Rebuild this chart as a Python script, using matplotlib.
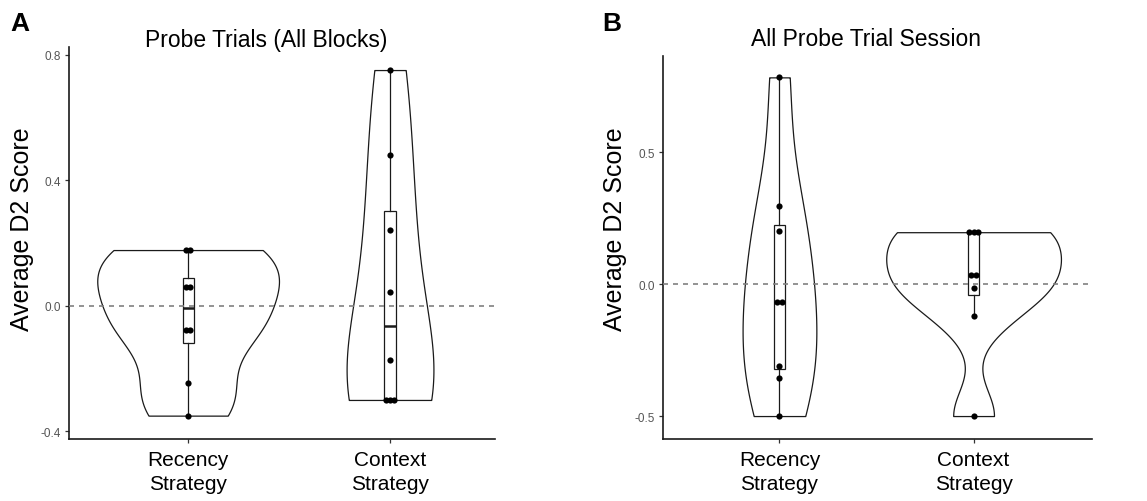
import numpy as np
import matplotlib
matplotlib.use("Agg")
import matplotlib.pyplot as plt

plt.rcParams['font.family'] = ['Liberation Sans', 'DejaVu Sans']
plt.rcParams['axes.unicode_minus'] = False

categories = ['Recency\nStrategy', 'Context\nStrategy']

# panel A: probe trials, all blocks
a_recency = [-0.35, -0.247, -0.076, -0.076, 0.061, 0.061, 0.178, 0.178]
a_context = [-0.30, -0.30, -0.30, -0.172, 0.044, 0.242, 0.48, 0.752]
# panel B: all probe trial session
b_recency = [-0.50, -0.356, -0.309, -0.066, -0.066, 0.20, 0.296, 0.784]
b_context = [-0.50, -0.122, -0.015, 0.035, 0.035, 0.197, 0.197, 0.197]

a_ticks = [-0.4, 0.0, 0.4, 0.8]
b_ticks = [-0.5, 0.0, 0.5]


def nrd0(x):
    # same rule as R's default bandwidth
    x = np.asarray(x)
    sd = np.std(x, ddof=1)
    q75, q25 = np.percentile(x, [75, 25])
    return 0.9 * min(sd, (q75 - q25) / 1.34) * len(x) ** -0.2


def violin(ax, pos, vals, width):
    vals = np.asarray(vals)
    bw = nrd0(vals)
    yy = np.linspace(vals.min(), vals.max(), 512)
    dens = np.exp(-0.5 * ((yy[:, None] - vals[None, :]) / bw) ** 2).sum(axis=1)
    hw = 0.5 * width * dens / dens.max()
    ax.fill_betweenx(yy, pos - hw, pos + hw, facecolor='white',
                     edgecolor='#1a1a1a', linewidth=0.9, zorder=1)


def dup_offsets(vals, step=0.022):
    vals = np.asarray(vals)
    off = np.zeros(len(vals))
    for v in np.unique(vals):
        idx = np.where(vals == v)[0]
        k = len(idx)
        off[idx] = (np.arange(k) - (k - 1) / 2) * step
    return off


def panel(ax, groups, vwidths, ticks, ylim, xlim):
    pos = [1, 2]
    for p, g, w in zip(pos, groups, vwidths):
        violin(ax, p, g, w)
    ax.boxplot(groups, positions=pos, widths=0.055, showfliers=False, showcaps=False,
               patch_artist=True, manage_ticks=False,
               boxprops=dict(facecolor='white', edgecolor='#1a1a1a', linewidth=0.9),
               whiskerprops=dict(color='#1a1a1a', linewidth=0.9),
               medianprops=dict(color='#1a1a1a', linewidth=1.8),
               zorder=2)
    ax.axhline(0, color='#808080', ls=(0, (3, 3)), lw=1.2, zorder=3)
    for p, g in zip(pos, groups):
        ax.scatter(p + dup_offsets(g), g, s=20, color='black', zorder=4, linewidths=0)
    ax.set_xlim(*xlim)
    ax.set_ylim(*ylim)
    ax.set_xticks(pos)
    ax.set_xticklabels(categories, fontsize=15, linespacing=1.3)
    ax.set_yticks(ticks)
    ax.set_yticklabels(['%.1f' % t for t in ticks])
    ax.tick_params(axis='y', labelsize=8.5, labelcolor='#555555', color='#333333',
                   length=3, width=0.9, pad=2.5)
    ax.tick_params(axis='x', color='#333333', length=3, width=0.9, pad=5)
    for s in ['top', 'right']:
        ax.spines[s].set_visible(False)
    for s in ['left', 'bottom']:
        ax.spines[s].set_linewidth(1.2)
        ax.spines[s].set_color('#1a1a1a')


fig = plt.figure(figsize=(11.47, 5.02), dpi=100)
W, H = 1147, 502

axA = fig.add_axes([69 / W, 1 - 440 / H, (495 - 69) / W, (440 - 48) / H])
panel(axA, [a_recency, a_context], [0.9, 0.43], a_ticks, (-0.4245, 0.8255), (0.41, 2.52))

axB = fig.add_axes([663 / W, 1 - 440 / H, (1092 - 663) / W, (440 - 57) / H])
panel(axB, [b_recency, b_context], [0.38, 0.9], b_ticks, (-0.587, 0.865), (0.40, 2.61))

fig.text(266 / W, 1 - 41 / H, 'Probe Trials (All Blocks)', fontsize=16.5, ha='center', va='center')
fig.text(866 / W, 1 - 40 / H, 'All Probe Trial Session', fontsize=16.5, ha='center', va='center')
fig.text(22 / W, 1 - 229 / H, 'Average D2 Score', fontsize=18, rotation=90, ha='center', va='center')
fig.text(615 / W, 1 - 229 / H, 'Average D2 Score', fontsize=18, rotation=90, ha='center', va='center')
fig.text(10 / W, 1 - 24 / H, 'A', fontsize=19, fontweight='bold', ha='left', va='center')
fig.text(602 / W, 1 - 24 / H, 'B', fontsize=19, fontweight='bold', ha='left', va='center')

fig.savefig('out.png', dpi=100)
